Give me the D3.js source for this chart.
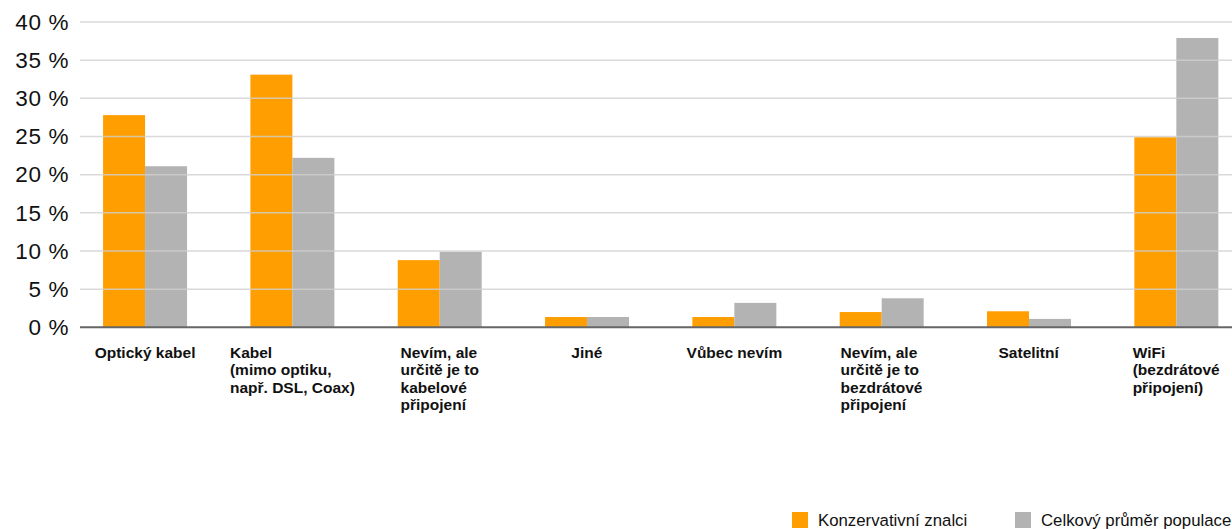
<!DOCTYPE html>
<html>
<head>
<meta charset="utf-8">
<script src="https://cdn.jsdelivr.net/npm/d3@7/dist/d3.min.js"></script>
<style>
  html, body { margin: 0; padding: 0; background: #fff; }
  svg { display: block; font-family: "Liberation Sans", Arial, sans-serif; }
</style>
</head>
<body>
<svg id="chart" width="1232" height="529"></svg>
<script>
// Connection type categories (each entry is a list of label lines)
const categories = [
  ["Optický kabel"],
  ["Kabel", "(mimo optiku,", "např. DSL, Coax)"],
  ["Nevím, ale", "určitě je to", "kabelové", "připojení"],
  ["Jiné"],
  ["Vůbec nevím"],
  ["Nevím, ale", "určitě je to", "bezdrátové", "připojení"],
  ["Satelitní"],
  ["WiFi", "(bezdrátové", "připojení)"]
];
const seriesNames = ["Konzervativní znalci", "Celkový průměr populace"];
const konzervativni = [27.8, 33.1, 8.8, 1.35, 1.35, 2.0, 2.1, 24.9];
const celkovy = [21.1, 22.2, 9.9, 1.35, 3.2, 3.8, 1.1, 37.9];
const yTicks = [0, 5, 10, 15, 20, 25, 30, 35, 40];
const colors = ["#ff9e00", "#b3b3b3"];

const svg = d3.select("#chart");
const gridLeft = 80, gridRight = 1232;

const y = d3.scaleLinear().domain([0, 40]).range([327.3, 22]);
const x0 = d3.scaleBand()
  .domain(d3.range(categories.length))
  .range([71.4, 1250])
  .paddingInner(0.43)
  .paddingOuter(0.215);
const x1 = d3.scaleBand().domain([0, 1]).range([0, x0.bandwidth()]);

// Bars
const series = [konzervativni, celkovy];
const groups = svg.append("g").selectAll("g")
  .data(categories.map((c, i) => i))
  .join("g")
  .attr("transform", i => `translate(${x0(i)},0)`);
groups.selectAll("rect")
  .data(i => series.map((s, k) => ({ k, v: s[i] })))
  .join("rect")
  .attr("x", d => x1(d.k))
  .attr("width", x1.bandwidth())
  .attr("y", d => y(d.v))
  .attr("height", d => y(0) - y(d.v))
  .attr("fill", d => colors[d.k]);

// Gridlines drawn over the bars
svg.append("g").selectAll("line")
  .data(yTicks.filter(t => t > 0))
  .join("line")
  .attr("x1", gridLeft).attr("x2", gridRight)
  .attr("y1", d => y(d)).attr("y2", d => y(d))
  .attr("stroke", "#cfcfcf")
  .attr("stroke-opacity", 0.8)
  .attr("stroke-width", 1.5);

// Baseline
svg.append("line")
  .attr("x1", gridLeft).attr("x2", gridRight)
  .attr("y1", y(0)).attr("y2", y(0))
  .attr("stroke", "#666").attr("stroke-width", 2);

// Y axis labels
svg.append("g").selectAll("text")
  .data(yTicks)
  .join("text")
  .attr("x", 69)
  .attr("y", d => y(d) + 7.8)
  .attr("text-anchor", "end")
  .attr("font-size", 22.5)
  .attr("letter-spacing", 0.6)
  .attr("fill", "#111")
  .text(d => `${d} %`);

// Category labels: left-aligned lines, block centred under each group
const labelG = svg.append("g");
categories.forEach((lines, i) => {
  const g = labelG.append("g");
  const t = g.append("text")
    .attr("font-size", 15.5)
    .attr("font-weight", "bold")
    .attr("fill", "#111");
  lines.forEach((ln, j) => {
    t.append("tspan").attr("x", 0).attr("y", 358 + j * 17.3).text(ln);
  });
  const w = t.node().getBBox().width;
  const cx = x0(i) + x0.bandwidth() / 2;
  g.attr("transform", `translate(${cx - w / 2},0)`);
});

// Legend
const legendX = [792, 1015];
const legend = svg.append("g");
seriesNames.forEach((name, k) => {
  legend.append("rect")
    .attr("x", legendX[k]).attr("y", 512)
    .attr("width", 16).attr("height", 16)
    .attr("fill", colors[k]);
  legend.append("text")
    .attr("x", legendX[k] + 26).attr("y", 526)
    .attr("font-size", 16.8)
    .attr("fill", "#111")
    .text(name);
});
</script>
</body>
</html>
